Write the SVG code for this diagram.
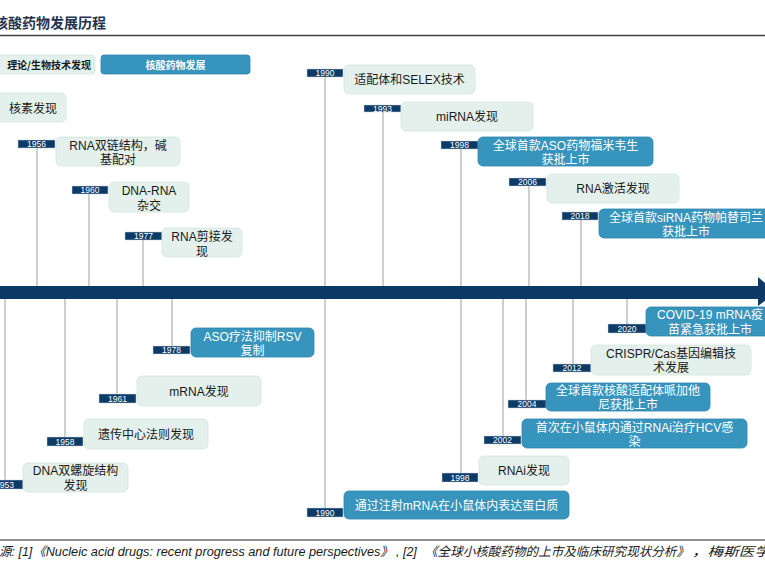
<svg xmlns="http://www.w3.org/2000/svg" width="765" height="565" viewBox="0 0 765 565">
<style>
.g{fill:#e3f0eb;stroke:#d3e4dd;stroke-width:0.8}
.b{fill:#3794bc;stroke:#2f86ad;stroke-width:0.8}
.yl{fill:#0c3b67;stroke:#c9d3de;stroke-width:0.5}
.yt{font-family:"Liberation Sans",sans-serif;font-size:8.5px;fill:#ffffff;text-anchor:middle}
.t{font-family:"Liberation Sans","Noto Sans CJK SC",sans-serif;font-size:12px;fill:#1a1a1a;text-anchor:middle}
.tw{font-family:"Liberation Sans","Noto Sans CJK SC",sans-serif;font-size:12px;fill:#ffffff;text-anchor:middle}
.c{stroke:#adadad;stroke-width:1.2;fill:none}
.fn{font-family:"Liberation Sans","Noto Sans CJK SC",sans-serif;font-size:12.5px;font-style:italic;fill:#1a1a1a}
</style>
<rect width="765" height="565" fill="#ffffff"/>
<g id="title">
<text x="-6" y="28" font-family="'Noto Sans CJK SC',sans-serif" font-size="14" font-weight="bold" fill="#1f3450">核酸药物发展历程</text>
<line x1="0" y1="35.5" x2="765" y2="35.5" stroke="#404040" stroke-width="1.3"/>
</g>
<g id="legend">
<rect x="-6" y="55" width="101" height="19" rx="3" class="g"/>
<text x="91" y="68.5" font-family="'Noto Sans CJK SC',sans-serif" font-size="10" font-weight="bold" fill="#1a1a1a" text-anchor="end">理论/生物技术发现</text>
<rect x="101" y="55" width="149" height="19" rx="3" class="b"/>
<text x="175.5" y="68.5" font-family="'Noto Sans CJK SC',sans-serif" font-size="10" font-weight="bold" fill="#ffffff" text-anchor="middle">核酸药物发展</text>
</g>
<g id="connectors">
<line class="c" x1="37" y1="148" x2="37" y2="287"/>
<line class="c" x1="89" y1="194" x2="89" y2="287"/>
<line class="c" x1="143" y1="240" x2="143" y2="287"/>
<line class="c" x1="325" y1="77" x2="325" y2="508"/>
<line class="c" x1="383" y1="112" x2="383" y2="287"/>
<line class="c" x1="461" y1="149" x2="461" y2="473"/>
<line class="c" x1="529" y1="185" x2="529" y2="287"/>
<line class="c" x1="581" y1="220" x2="581" y2="287"/>
<line class="c" x1="5" y1="298" x2="5" y2="480"/>
<line class="c" x1="65" y1="298" x2="65" y2="437"/>
<line class="c" x1="117" y1="298" x2="117" y2="394"/>
<line class="c" x1="172" y1="298" x2="172" y2="346"/>
<line class="c" x1="503" y1="298" x2="503" y2="436"/>
<line class="c" x1="526" y1="298" x2="526" y2="400"/>
<line class="c" x1="573" y1="298" x2="573" y2="364"/>
<line class="c" x1="627" y1="298" x2="627" y2="324"/>
</g>
<g id="timeline">
<rect x="0" y="286" width="760" height="13" fill="#0b3a66"/>
<polygon points="758,277 776,292.5 758,306" fill="#0b3a66"/>
</g>
<g id="n-nuclein">
<rect x="-6" y="93" width="72" height="29" rx="5" class="g"/>
<text class="t" x="33" y="113">核素发现</text>
</g>
<g id="n-1956">
<rect x="18" y="140" width="37" height="8" class="yl"/>
<text class="yt" x="36.5" y="147">1956</text>
<rect x="56" y="137" width="124" height="29" rx="5" class="g"/>
<text class="t" x="118" y="149.5">RNA双链结构，碱</text>
<text class="t" x="118" y="164">基配对</text>
</g>
<g id="n-1960">
<rect x="72" y="186" width="36" height="8" class="yl"/>
<text class="yt" x="90" y="193">1960</text>
<rect x="109" y="182" width="80" height="30" rx="5" class="g"/>
<text class="t" x="149" y="195">DNA-RNA</text>
<text class="t" x="149" y="210">杂交</text>
</g>
<g id="n-1977">
<rect x="125" y="232" width="37" height="8" class="yl"/>
<text class="yt" x="143.5" y="239">1977</text>
<rect x="162" y="228" width="80" height="29" rx="5" class="g"/>
<text class="t" x="202" y="241">RNA剪接发</text>
<text class="t" x="202" y="256">现</text>
</g>
<g id="n-1990a">
<rect x="307" y="69" width="36" height="8" class="yl"/>
<text class="yt" x="325" y="76">1990</text>
<rect x="344" y="65" width="131" height="29" rx="5" class="g"/>
<text class="t" x="409.5" y="84">适配体和SELEX技术</text>
</g>
<g id="n-1993">
<rect x="364" y="105" width="37" height="7" class="yl"/>
<text class="yt" x="382.5" y="111.5">1993</text>
<rect x="401" y="102" width="132" height="29" rx="5" class="g"/>
<text class="t" x="467" y="121">miRNA发现</text>
</g>
<g id="n-1998a">
<rect x="441" y="141" width="37" height="8" class="yl"/>
<text class="yt" x="459.5" y="148">1998</text>
<rect x="478" y="137" width="175" height="29" rx="5" class="b"/>
<text class="tw" x="565.5" y="149.5">全球首款ASO药物福米韦生</text>
<text class="tw" x="565.5" y="164">获批上市</text>
</g>
<g id="n-2006">
<rect x="509" y="178" width="37" height="8" class="yl"/>
<text class="yt" x="527.5" y="185">2006</text>
<rect x="547" y="174" width="132" height="29" rx="5" class="g"/>
<text class="t" x="613" y="193">RNA激活发现</text>
</g>
<g id="n-2018">
<rect x="562" y="212" width="36" height="8" class="yl"/>
<text class="yt" x="580" y="219">2018</text>
<rect x="599" y="209" width="177" height="29" rx="5" class="b"/>
<text class="tw" x="686" y="221.5">全球首款siRNA药物帕替司兰</text>
<text class="tw" x="686" y="235.5">获批上市</text>
</g>
<g id="n-1953">
<rect x="-14" y="480" width="37" height="9" class="yl"/>
<text class="yt" x="4.5" y="487.5">1953</text>
<rect x="23" y="463" width="105" height="29" rx="5" class="g"/>
<text class="t" x="75.5" y="474.5">DNA双螺旋结构</text>
<text class="t" x="75.5" y="490">发现</text>
</g>
<g id="n-1958">
<rect x="47" y="437" width="36" height="9" class="yl"/>
<text class="yt" x="65" y="444.5">1958</text>
<rect x="84" y="419" width="124" height="30" rx="5" class="g"/>
<text class="t" x="146" y="438.5">遗传中心法则发现</text>
</g>
<g id="n-1961">
<rect x="99" y="394" width="37" height="9" class="yl"/>
<text class="yt" x="117.5" y="401.5">1961</text>
<rect x="137" y="376" width="124" height="30" rx="5" class="g"/>
<text class="t" x="199" y="396">mRNA发现</text>
</g>
<g id="n-1978">
<rect x="153" y="346" width="37" height="8" class="yl"/>
<text class="yt" x="171.5" y="353">1978</text>
<rect x="191" y="328" width="123" height="29" rx="5" class="b"/>
<text class="tw" x="252.5" y="340.5">ASO疗法抑制RSV</text>
<text class="tw" x="252.5" y="355">复制</text>
</g>
<g id="n-1990b">
<rect x="307" y="508" width="36" height="9" class="yl"/>
<text class="yt" x="325" y="515.5">1990</text>
<rect x="344" y="491" width="225" height="28" rx="5" class="b"/>
<text class="tw" x="456.5" y="510">通过注射mRNA在小鼠体内表达蛋白质</text>
</g>
<g id="n-1998b">
<rect x="442" y="473" width="36" height="9" class="yl"/>
<text class="yt" x="460" y="480.5">1998</text>
<rect x="479" y="456" width="90" height="29" rx="5" class="g"/>
<text class="t" x="524" y="475">RNAi发现</text>
</g>
<g id="n-2002">
<rect x="484" y="436" width="37" height="8" class="yl"/>
<text class="yt" x="502.5" y="443">2002</text>
<rect x="522" y="419" width="225" height="29" rx="5" class="b"/>
<text class="tw" x="634.5" y="431.5">首次在小鼠体内通过RNAi治疗HCV感</text>
<text class="tw" x="634.5" y="446">染</text>
</g>
<g id="n-2004">
<rect x="508" y="400" width="38" height="8" class="yl"/>
<text class="yt" x="527" y="407">2004</text>
<rect x="546" y="383" width="164" height="28" rx="5" class="b"/>
<text class="tw" x="628" y="394.5">全球首款核酸适配体哌加他</text>
<text class="tw" x="628" y="408.5">尼获批上市</text>
</g>
<g id="n-2012">
<rect x="553" y="364" width="38" height="8" class="yl"/>
<text class="yt" x="572" y="371">2012</text>
<rect x="591" y="345" width="160" height="30" rx="5" class="g"/>
<text class="t" x="671" y="357.5">CRISPR/Cas基因编辑技</text>
<text class="t" x="671" y="372">术发展</text>
</g>
<g id="n-2020">
<rect x="608" y="324" width="38" height="9" class="yl"/>
<text class="yt" x="627" y="331.5">2020</text>
<rect x="646" y="307" width="130" height="29" rx="5" class="b"/>
<text class="tw" x="710" y="318.5">COVID-19 mRNA疫</text>
<text class="tw" x="710" y="334">苗紧急获批上市</text>
</g>
<g id="footnote">
<line x1="0" y1="540" x2="765" y2="540" stroke="#202020" stroke-width="1.2"/>
<text class="fn" x="-1" y="556">源: [1]</text>
<text class="fn" x="33" y="556" textLength="360" lengthAdjust="spacingAndGlyphs">《Nucleic acid drugs: recent progress and future perspectives》</text>
<text class="fn" x="396" y="556">, [2]</text>
<text class="fn" x="425" y="556" textLength="264" lengthAdjust="spacingAndGlyphs">《全球小核酸药物的上市及临床研究现状分析》</text>
<text class="fn" x="692" y="556" textLength="78" lengthAdjust="spacingAndGlyphs">，梅斯医学</text>
</g>
</svg>
